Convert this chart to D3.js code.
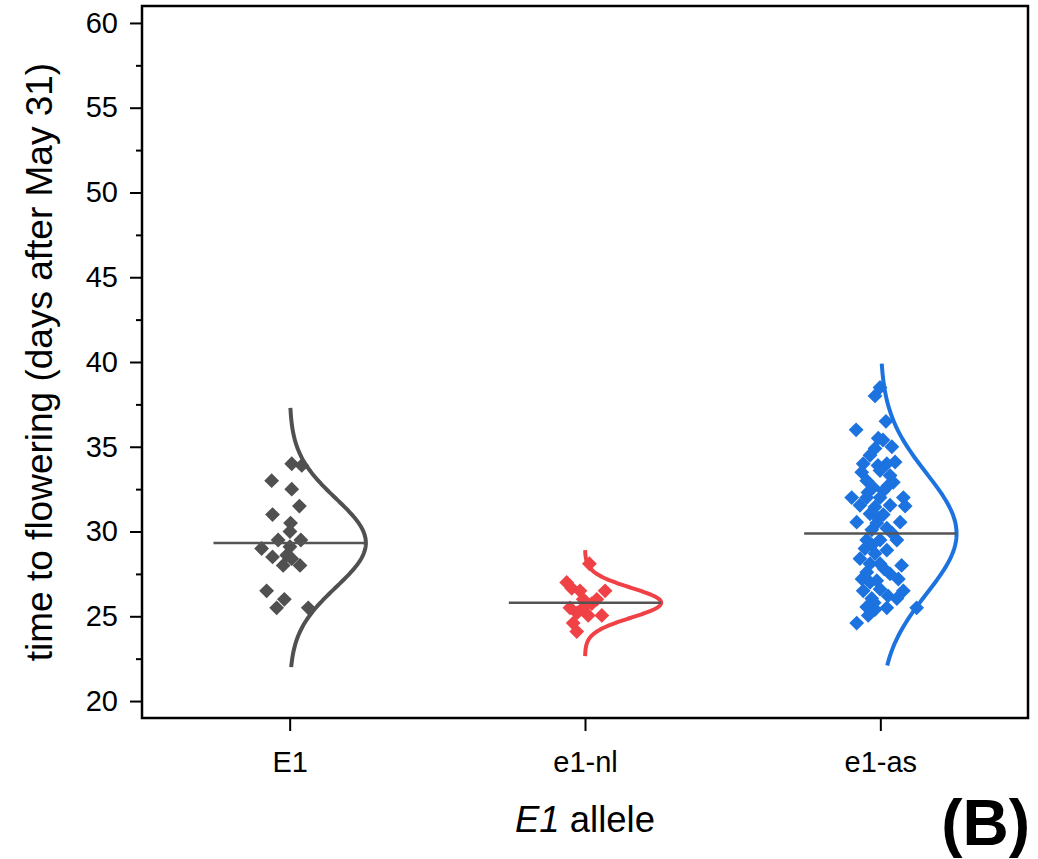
<!DOCTYPE html>
<html><head><meta charset="utf-8">
<script src="https://cdn.jsdelivr.net/npm/d3@7"></script>
<style>
html,body{margin:0;padding:0;background:#fff;}
text{font-family:"Liberation Sans",Arial,Helvetica,sans-serif;}
</style></head>
<body>
<svg id="chart" width="1038" height="859"></svg>
<script>
// ---- data ----
const categories = ["E1", "e1-nl", "e1-as"];
const colors = ["#505050", "#f04246", "#1c73e0"];

// x-jitter (category units) and days to flowering, per allele
const e1Jitter = [0.007,0.041,-0.061,0.007,0.033,-0.058,0.003,0.001,-0.039,0.038,-0.095,0.001,-0.058,-0.010,-0.022,0.035,0.007,-0.078,-0.018,-0.044,0.063];
const e1Values = [34.0,33.9,33.0,32.5,31.5,31.0,30.5,30.0,29.5,29.5,29.0,29.1,28.5,28.6,28.0,28.0,28.4,26.5,26.0,25.5,25.5];

const nlJitter = [0.015,-0.062,-0.045,-0.017,0.068,-0.006,0.040,-0.051,-0.006,0.011,0.057,-0.040,-0.028,0.023,-0.027];
const nlValues = [28.1,27.0,26.65,26.5,26.5,26.0,26.0,25.5,25.5,25.05,25.05,24.6,24.1,25.75,25.2];

const asJitter = [-0.001,-0.018,0.019,-0.082,-0.007,0.009,0.039,-0.018,-0.035,-0.058,0.022,0.050,-0.063,-0.001,0.033,-0.046,0.044,-0.024,0.010,-0.097,-0.046,-0.001,0.078,-0.069,-0.018,0.033,0.084,-0.035,0.010,-0.080,-0.012,0.067,-0.029,0.022,0.056,-0.046,-0.001,-0.052,0.022,-0.018,-0.035,-0.001,0.072,-0.046,0.033,-0.012,0.061,-0.058,-0.001,0.078,-0.029,0.056,-0.046,0.022,0.123,-0.041,-0.080,-0.018,-0.028,0.013,-0.035,0.026,-0.021,-0.062,-0.008,-0.042,0.026,-0.008,0.040,-0.069];
const asValues = [38.5,38.0,36.5,36.0,35.5,35.4,35.0,34.9,34.5,34.0,34.0,34.1,33.5,33.6,33.3,33.0,32.9,32.6,32.4,32.0,32.0,32.0,32.0,31.55,31.45,31.55,31.5,31.05,31.0,30.55,30.5,30.55,30.1,30.2,29.5,29.5,29.5,29.0,28.9,28.7,28.1,28.1,28.0,27.6,27.5,27.1,27.2,26.5,26.6,26.5,26.05,26.05,25.55,25.5,25.5,25.05,24.6,25.4,29.2,27.8,27.0,26.2,25.8,27.2,30.8,32.3,32.7,33.9,29.9,28.4];

// fitted normal curves
const fitMean = [29.33, 25.8, 29.88];
const fitSD = [2.62, 0.88, 3.55];
const curveLo = [22.0, 22.65, 22.1];
const curveHi = [37.3, 28.9, 39.9];

const yTicks = [20,25,30,35,40,45,50,55,60];
const yMinorTicks = [22.5,27.5,32.5,37.5,42.5,47.5,52.5,57.5];

// ---- layout ----
const svg = d3.select("#chart");
const L = 142, R = 1028, T = 6, B = 718;
const x = d3.scaleLinear().domain([0.5, 3.5]).range([L, R]);
const y = d3.scaleLinear().domain([19, 61]).range([B, T]);
const halfW = 0.258; // curve amplitude / mean line half length (category units)

const groups = [
  {jit: e1Jitter, val: e1Values},
  {jit: nlJitter, val: nlValues},
  {jit: asJitter, val: asValues}
];

const g = svg.append("g");

// curves
groups.forEach((grp, i) => {
  const c = i + 1;
  const m = fitMean[i], s = fitSD[i];
  const vals = d3.range(curveLo[i], curveHi[i] + 1e-9, (curveHi[i] - curveLo[i]) / 200);
  const line = d3.line()
    .x(v => x(c + halfW * Math.exp(-((v - m) ** 2) / (2 * s * s))))
    .y(v => y(v));
  g.append("path").datum(vals).attr("d", line)
    .attr("fill", "none").attr("stroke", colors[i]).attr("stroke-width", 4);
});

// points
const sym = d3.symbol().type(d3.symbolSquare).size(110);
groups.forEach((grp, i) => {
  const c = i + 1;
  g.append("g").selectAll("path").data(grp.val).join("path")
    .attr("d", sym)
    .attr("transform", (v, k) => `translate(${x(c + grp.jit[k])},${y(v)}) rotate(45)`)
    .attr("fill", colors[i]);
});

// mean lines
groups.forEach((grp, i) => {
  const c = i + 1;
  g.append("line")
    .attr("x1", x(c - halfW)).attr("x2", x(c + halfW))
    .attr("y1", y(fitMean[i])).attr("y2", y(fitMean[i]))
    .attr("stroke", "#555").attr("stroke-width", 2.5);
});

// axes
const yAxis = d3.axisLeft(y).tickValues(yTicks).tickSize(12).tickPadding(12).tickFormat(d3.format("d"));
const yMinor = d3.axisLeft(y).tickValues(yMinorTicks).tickSize(6).tickFormat("");
const xAxis = d3.axisBottom(x).tickValues([1,2,3]).tickSize(13).tickPadding(20).tickFormat(d => categories[d-1]);

const ya = svg.append("g").attr("transform", `translate(${L},0)`).call(yAxis);
const ym = svg.append("g").attr("transform", `translate(${L},0)`).call(yMinor);
const xa = svg.append("g").attr("transform", `translate(0,${B})`).call(xAxis);
[ya, ym, xa].forEach(a => {
  a.select(".domain").remove();
  a.selectAll(".tick line").attr("stroke", "#000").attr("stroke-width", 2);
  a.selectAll(".tick text").attr("fill", "#000").style("font-size", "29px")
    .style("font-family", '"Liberation Sans",Arial,sans-serif');
});

// frame
svg.append("rect").attr("x", L).attr("y", T).attr("width", R - L).attr("height", B - T)
  .attr("fill", "none").attr("stroke", "#000").attr("stroke-width", 2.5);

// axis titles
svg.append("text")
  .attr("transform", `translate(52,${(T + B) / 2}) rotate(-90)`)
  .attr("text-anchor", "middle")
  .style("font-size", "37px")
  .text("time to flowering (days after May 31)");

const xt = svg.append("text").attr("x", (L + R) / 2).attr("y", 832)
  .attr("text-anchor", "middle").style("font-size", "36.5px");
xt.append("tspan").style("font-style", "italic").text("E1");
xt.append("tspan").text(" allele");

svg.append("text").attr("x", 1030).attr("y", 845).attr("text-anchor", "end")
  .style("font-size", "64px").style("font-weight", "bold").text("(B)");
</script>
</body></html>
